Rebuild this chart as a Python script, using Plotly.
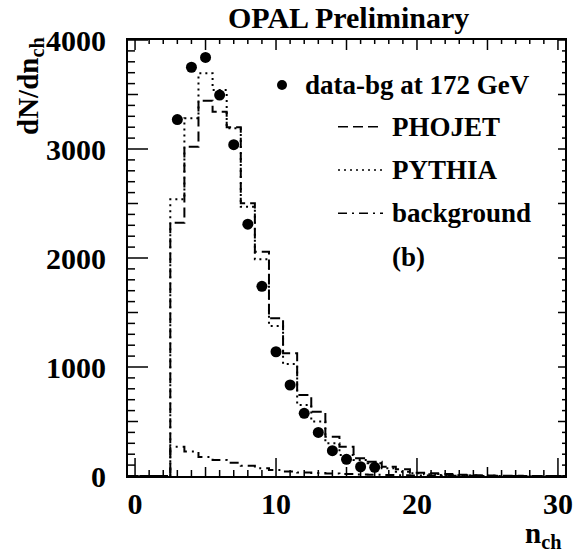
import numpy as np
import plotly.graph_objects as go

# ---------------- data ----------------
n_data = [3, 4, 5, 6, 7, 8, 9, 10, 11, 12, 13, 14, 15, 16, 17]
data_bg = [3270, 3750, 3840, 3495, 3040, 2310, 1740, 1140, 835, 575, 400, 232, 153, 85, 80]

n_bins = list(range(0, 31))
phojet = [0, 0, 0, 2324, 3021, 3443, 3342, 3199, 2502, 2058, 1447, 1126, 743, 590, 361,
          269, 162, 131, 85, 61, 30, 25, 18, 12, 8, 5, 3, 2, 1, 1, 0]
pythia = [0, 0, 0, 2538, 3281, 3694, 3541, 3190, 2471, 1988, 1376, 1028, 651, 500, 300,
          193, 147, 116, 70, 40, 25, 15, 10, 6, 4, 2, 1, 1, 0, 0, 0]
background = [0, 0, 0, 269, 225, 175, 147, 122, 95, 72, 55, 42, 33, 27, 22,
              18, 14, 11, 9, 7, 5, 4, 3, 2, 2, 1, 1, 0, 0, 0, 0]

x_ticks = [0, 10, 20, 30]
y_ticks = [0, 1000, 2000, 3000, 4000]
x_minor = list(range(0, 31))
y_minor = list(range(0, 4001, 100))

FONT = "Liberation Serif"
XR = [-0.5, 30.5]
YR = [0, 4000]
PL, PT, PW, PH = 128, 40, 437, 436


def steps(centers, vals):
    c = np.asarray(centers, dtype=float)
    v = np.asarray(vals, dtype=float)
    edges = np.append(c - 0.5, c[-1] + 0.5)
    return edges, np.append(v, v[-1])


def b(s):
    return "<b>" + s + "</b>"


fig = go.Figure()

# ---- inside tick marks (ROOT style), generated from the tick arrays ----
ux = (XR[1] - XR[0]) / PW
uy = (YR[1] - YR[0]) / PH
tx, ty = [], []
for xv in x_minor:
    lb = 18 if xv % 10 == 0 else (9 if xv % 5 == 0 else 6)
    lt = 10 if xv % 5 == 0 else 4
    tx += [xv, xv, None, xv, xv, None]
    ty += [YR[0], YR[0] + lb * uy, None, YR[1], YR[1] - lt * uy, None]
for yv in y_minor:
    ll = 20 if yv % 1000 == 0 else (10 if yv % 500 == 0 else 7)
    lr = 7 if yv % 500 == 0 else 3
    tx += [XR[0], XR[0] + ll * ux, None, XR[1], XR[1] - lr * ux, None]
    ty += [yv, yv, None, yv, yv, None]
fig.add_trace(go.Scatter(x=tx, y=ty, mode="lines", line=dict(color="black", width=1.5),
                         showlegend=False, hoverinfo="skip"))

for vals, dash in [(phojet, "10px,5px"), (pythia, "2px,4px"), (background, "9px,5px,2px,5px")]:
    xs, ys = steps(n_bins, vals)
    fig.add_trace(go.Scatter(x=xs, y=ys, mode="lines", line_shape="hv",
                             line=dict(color="black", width=2, dash=dash),
                             showlegend=False, hoverinfo="skip"))

fig.add_trace(go.Scatter(x=n_data, y=data_bg, mode="markers",
                         marker=dict(color="black", size=11, symbol="circle"),
                         showlegend=False))

tickfont = dict(family=FONT, size=30, color="black")
fig.update_layout(
    width=584, height=552,
    margin=dict(l=PL, r=584 - PL - PW, t=PT, b=552 - PT - PH),
    paper_bgcolor="white", plot_bgcolor="white",
    showlegend=False,
    xaxis=dict(range=XR, tickmode="array", tickvals=x_ticks, ticktext=[b(str(v)) for v in x_ticks],
               ticks="", showline=True, linewidth=2, linecolor="black", mirror=True,
               showgrid=False, zeroline=False, tickfont=tickfont),
    yaxis=dict(range=YR, tickmode="array", tickvals=y_ticks, ticktext=[b(str(v)) for v in y_ticks],
               ticks="", showline=True, linewidth=2, linecolor="black", mirror=True,
               showgrid=False, zeroline=False, tickfont=tickfont, ticklabelstandoff=14),
)


def px(xp):
    return (xp - PL) / PW


def py(yp):
    return (PT + PH - yp) / PH


lfont = dict(family=FONT, size=27, color="black")
ann = []
fig.add_shape(type="circle", xref="paper", yref="paper",
              x0=px(277), x1=px(287), y0=py(90), y1=py(80),
              fillcolor="black", line=dict(color="black", width=0))
ann.append(dict(text="data-bg at 172 GeV", x=px(303), y=py(85)))
entries = [("PHOJET", 126.7, "10px,5px"), ("PYTHIA", 170, "2px,4px"),
           ("background", 213.3, "9px,5px,2px,5px")]
for label, yy, dash in entries:
    fig.add_shape(type="line", xref="paper", yref="paper", x0=px(338), x1=px(383),
                  y0=py(yy), y1=py(yy), line=dict(color="black", width=1.5, dash=dash))
    ann.append(dict(text=label, x=px(390), y=py(yy)))
ann.append(dict(text="(b)", x=px(390), y=py(256.7)))

for a in ann:
    fig.add_annotation(text=b(a["text"]), x=a["x"], y=a["y"], xref="paper", yref="paper",
                       xanchor="left", yanchor="middle", showarrow=False, font=lfont)

fig.add_annotation(text=b("OPAL Preliminary"), x=px(348), y=py(17), xref="paper", yref="paper",
                   xanchor="center", yanchor="middle", showarrow=False,
                   font=dict(family=FONT, size=30, color="black"))
fig.add_annotation(text=b("dN/dn<sub>ch</sub>"), x=px(30), y=py(86), xref="paper", yref="paper",
                   xanchor="center", yanchor="middle", showarrow=False, textangle=-90,
                   font=dict(family=FONT, size=29, color="black"))
fig.add_annotation(text=b("n<sub>ch</sub>"), x=px(563), y=py(535), xref="paper", yref="paper",
                   xanchor="right", yanchor="middle", showarrow=False,
                   font=dict(family=FONT, size=29, color="black"))

fig.write_html("out.html")
